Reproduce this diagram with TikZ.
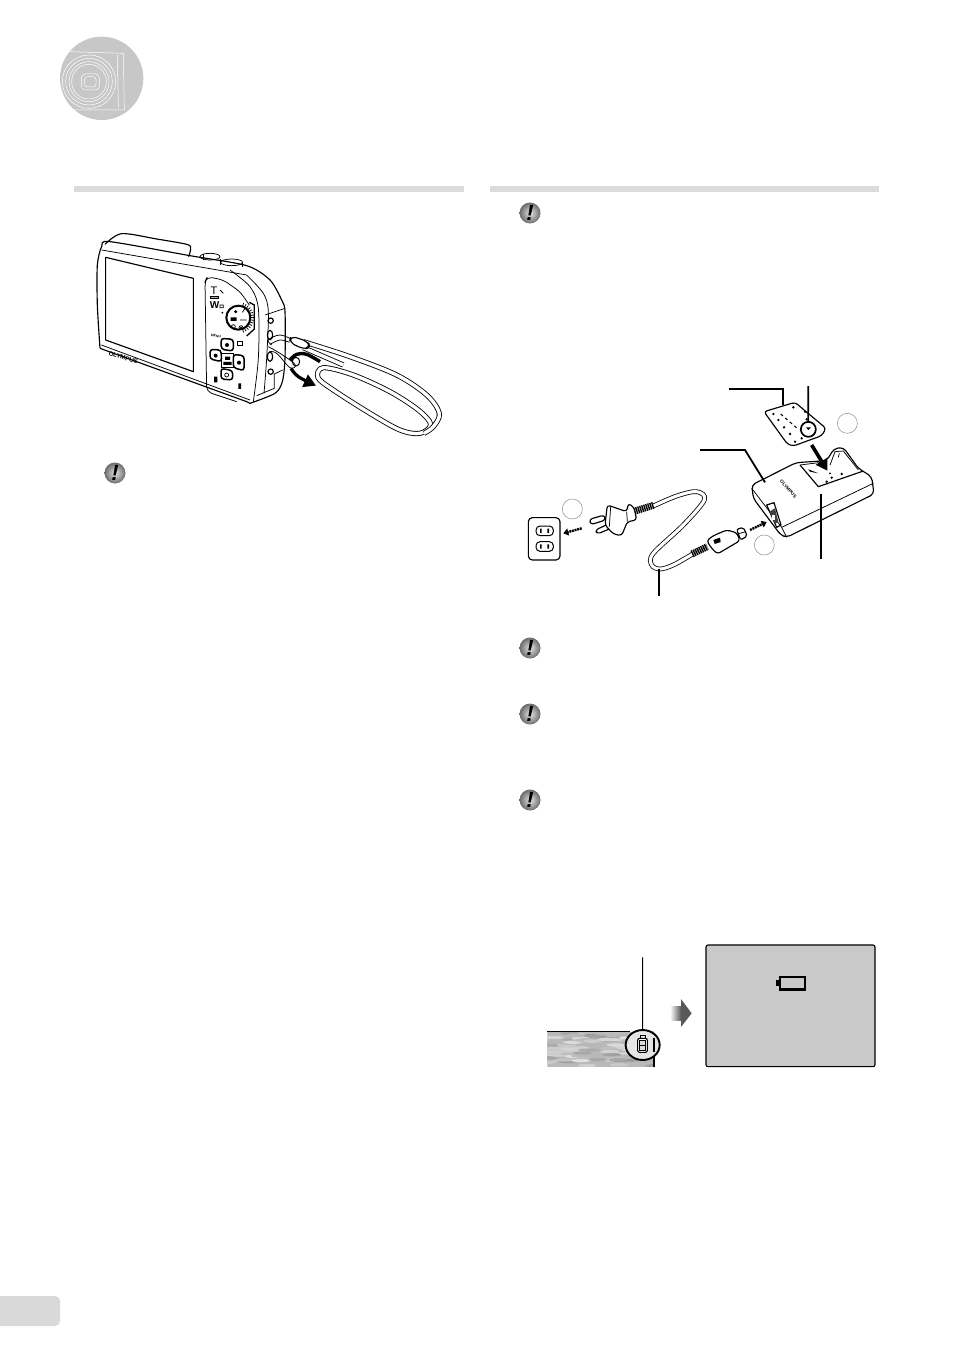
\documentclass[tikz,border=0pt]{standalone}
\usepackage{fontspec}
\setsansfont{Liberation Sans}
\usepackage{tikz}
\usetikzlibrary{arrows.meta,shapes.geometric}

\tikzset{
  outline/.style={line width=1.15pt,line join=round},
  fine/.style={line width=0.75pt},
  leader/.style={line width=1.8pt,line join=miter},
  emptymark/.style={draw=black!45,line width=0.5pt,fill=white},
  cordline/.style={line width=0.8pt,double=white,double distance=3.1pt},
  strapline/.style={line width=0.85pt,double=white,double distance=3.4pt},
  ribbed/.style={line width=7pt,dash pattern=on 1.4pt off 0.7pt},
  pushtip/.style={line width=2.4pt,dash pattern=on 2pt off 0.7pt,-{Triangle[length=5pt,width=7pt,sep=0pt]}},
  warnball/.style={circle,minimum size=21pt,inner sep=0pt,inner color=black!10,outer color=black!58,
    font=\sffamily\bfseries\itshape\fontsize{22}{22}\selectfont},
  barfill/.style={fill=black!14},
  % pictures below are laid out in 3x crop coordinates
  camview/.style={shift={(90,225)},scale=1/3},
  chargerview/.style={shift={(510,370)},scale=1/3},
  lowview/.style={shift={(530,930)},scale=1/3},
  headview/.style={shift={(40,20)},scale=1/3}
}

\begin{document}
\begin{tikzpicture}[x=1pt,y=-1pt]
 \useasboundingbox (0,0) rectangle (954,1356);

 % header disc
 \begin{scope}[headview]
  \fill[black!22] (185,175) circle (125);
  \begin{scope}[white,line width=0.5pt]
   \draw (88,95)--(250,100)--(253,270)--(100,270);
   \draw (232,105)--(235,262);
   \foreach \r in {52,60,70,80} \draw (147,185) circle (\r);
   \draw[rounded corners=4pt] (124,162)--(178,162)--(178,210)--(124,210)--cycle;
   \draw[rounded corners=3pt] (133,170)--(168,170)--(168,201)--(133,201)--cycle;
  \end{scope}
 \end{scope}

 % section bars and page tab
 \fill[barfill] (74,186) rectangle (464,192);
 \fill[barfill] (490,186) rectangle (879,192);
 \fill[black!15,rounded corners=5pt] (-10,1296) rectangle (60,1326);

 % caution marks
 \node[warnball] (warnstrap) at (115,473) {!};
 \node[warnball] (warnone) at (530,213) {!};
 \node[warnball] (warntwo) at (530,648) {!};
 \node[warnball] (warnthree) at (530,714) {!};
 \node[warnball] (warnfour) at (530,800) {!};

 % camera
 \begin{scope}[camview]
  \draw[outline] plot[smooth,tension=0.45] coordinates
  {(480,535) (555,505) (577,470) (585,400) (585,260) (575,225) (540,165) (470,122) (300,92) (60,50) (35,65) (22,120) (22,240) (30,370)};
  \draw[outline] (30,370)--(470,530)--(480,535);
  \draw[outline] plot[smooth,tension=0.5] coordinates {(45,58) (95,26) (200,42) (290,58) (302,70) (296,95)};
  \draw[fine] (35,75)--(470,150);
  \draw[fine] plot[smooth,tension=0.5] coordinates {(470,150) (520,205) (535,260) (530,400) (522,505)};
  \draw[fine] plot[smooth,tension=0.5] coordinates {(420,135) (480,185) (505,250) (505,400) (490,530)};
  \draw[fine] (34,360)--(480,525);
  % screen
  \draw[outline] (47,97)--(310,160)--(310,440)--(47,345)--cycle;
  % top buttons
  \draw[fine] (360,95) ellipse (30 and 10);
  \draw[fine] (425,112) ellipse (33 and 10);
  \draw[fine] (340,105)--(340,88) (392,120)--(392,102) (458,125)--(458,112);
  % control panel
  \draw[fine,rounded corners=5pt] (440,530)--(350,500)--(345,170)--(352,155)--(400,165)--(450,200)--(478,240);
  \node[font=\sffamily\fontsize{11}{11}\selectfont] (zoomt) at (372,198) {T};
  \node[font=\sffamily\bfseries\fontsize{10}{10}\selectfont] (zoomw) at (374,239) {W};
  \draw[fine,fill=black!30] (360,215) rectangle (385,221);
  \fill (397,263) circle (3);
  \draw[fine] (390,195)--(400,205) (390,240) rectangle (400,248);
  % dial
  \draw[line width=1.3pt] (478,232)--(493,240)--(493,312)--(470,333);
  \draw[line width=2pt,fill=white] (445,278) circle (36);
  \foreach \a in {-70,-60,...,70} \draw[fine] ({445+38*cos(\a)},{278+38*sin(\a)})--({445+47*cos(\a)},{278+47*sin(\a)});
  \fill (437,260) circle (5) (422,277) rectangle (440,288);
  \draw[fine] (430,305) circle (6) (453,308) circle (6) (457,262)--(465,250) (450,285)--(470,285);
  \fill (453,308) circle (3);
  % pad
  \draw[line width=1.5pt,rounded corners=3pt] (393,340)--(430,343)--(430,378)--(394,373)--cycle;
  \draw[line width=1.5pt,rounded corners=3pt] (360,373)--(393,375)--(395,410)--(360,402)--cycle;
  \draw[line width=1.5pt,rounded corners=3pt] (430,388)--(462,392)--(462,437)--(430,428)--cycle;
  \draw[line width=1.5pt,rounded corners=3pt] (393,430)--(428,437)--(428,465)--(393,462)--cycle;
  \draw[fine] (395,385) rectangle (430,428);
  \fill (411,360) circle (6) (377,392) circle (6) (447,413) circle (6);
  \draw[line width=0.7pt] (410,450) circle (6);
  \fill (405,395) rectangle (420,405) (400,411) rectangle (425,420);
  \node[font=\sffamily\bfseries\fontsize{3.4}{3}\selectfont,rotate=-8] (menutext) at (378,333) {MENU};
  \draw[fine] (443,348) rectangle (458,360);
  \fill (372,455) rectangle (382,472) (445,475) rectangle (453,492);
  \node[font=\sffamily\bfseries\fontsize{6.2}{6.2}\selectfont,rotate=-17] (brandcam) at (100,398) {OLYMPUS};
  % side of body
  \draw[fine] (525,270)--(585,250);
  \draw[fine] (553,447)--(578,435);
  \draw[fine] (553,447)--(553,490)--(500,512);
  \draw[outline] (542,287) circle (8) (542,440) circle (8);
  \draw[outline] (540,330) ellipse (8 and 14) (540,395) ellipse (8 and 14);
  % strap
  \draw[strapline] plot[smooth cycle,tension=0.55] coordinates
  {(700,428) (790,450) (900,500) (985,555) (1022,598) (990,625) (930,615) (840,565) (730,495) (684,458)};
  \draw[strapline] plot[smooth,tension=0.55] coordinates
  {(640,350) (780,395) (920,450) (1010,510) (1048,565) (1030,605) (1002,625)};
  \draw[strapline] (640,368)--(760,420);
  \draw[fine] plot[smooth,tension=0.6] coordinates {(610,345) (570,330) (535,345) (545,360)};
  \draw[fine] plot[smooth,tension=0.6] coordinates {(598,352) (570,345) (540,358)};
  \draw[fine] plot[smooth,tension=0.6] coordinates {(535,365) (570,385) (615,418) (600,428) (560,385) (538,380)};
  \draw[line width=1pt] (618,410) circle (11 and 13);
  \draw[outline,fill=white,rounded corners=5pt] (603,333)--(655,350)--(660,368)--(640,372)--(598,352)--cycle;
  % fastening arrows
  \draw[line width=3.4pt] plot[smooth,tension=0.6] coordinates {(690,410) (650,388) (620,388) (600,405)};
  \draw[line width=3.2pt,-{Triangle[length=12pt,width=13pt]}] plot[smooth,tension=0.6] coordinates {(603,430) (625,455) (678,482)};
 \end{scope}

 % charger group
 \begin{scope}[chargerview]
  \node[emptymark,circle,minimum size=20pt,inner sep=0pt] (markc) at (1012,160) {};
  \node[emptymark,circle,minimum size=20pt,inner sep=0pt] (marka) at (187,417) {};
  \node[emptymark,circle,minimum size=20pt,inner sep=0pt] (markb) at (763,525) {};
  % battery
  \draw[outline,rounded corners=3pt] (762,125)--(855,97)--(948,175)--(935,197)--(850,228)--(832,222)--cycle;
  \draw[line width=1pt,dashed] (812,132)--(865,178);
  \foreach \dx/\dy in {790/132,805/150,822/172,840/192,850/112,885/125,890/148,855/215,875/205} \fill (\dx,\dy) circle (4);
  \node[circle,draw,line width=1.7pt,minimum size=15pt,inner sep=0pt] (batmark) at (895,178) {};
  \fill (895,180) -- (903,172) -- (888,172) -- cycle;
  % charger body
  \draw[outline,fill=white,rounded corners=4pt] (725,345)--(858,278)--(950,272)--(972,236)--(1000,232)--(1045,295)--(1085,320)--(1092,372)--(830,502)--(812,495)--(730,385)--cycle;
  \draw[fine] (725,355)--(815,472)--(1090,340);
  \draw[fine] (815,472)--(830,502);
  \draw[outline] (870,285)--(925,350)--(1060,303);
  \draw[fine] (870,285)--(950,275);
  \draw[fine] (960,285)--(975,245)--(1000,243)--(1045,300);
  \draw[fine] (988,250)--(985,262);
  \fill (950,335) circle (4) (965,323) circle (4) (995,312) circle (4) (960,310) circle (3);
  \fill (895,298) -- (925,310) -- (900,305) --cycle;
  \node[font=\sffamily\bfseries\fontsize{4.6}{4.6}\selectfont,rotate=-47] (brandchg) at (835,357) {OLYMPUS};
  % port
  \draw[outline] (770,405)--(792,398)--(813,465)--(800,472)--cycle;
  \fill[black!75] (778,425)--(795,415)--(805,455)--(795,462)--cycle;
  \fill[white] (785,435) rectangle (795,450);
  % inserting arrow
  \draw[line width=3.6pt,-{Triangle[length=11pt,width=13pt]}] (905,225)--(952,302);
  % outlet
  \draw[outline,rounded corners=4pt] (55,443) rectangle (150,570);
  \foreach \yy in {468,515} {
   \draw[line width=1pt,rounded corners=4pt] (78,\yy) rectangle (130,\yy+29);
   \fill (90,\yy+8) rectangle (95,\yy+21) (112,\yy+8) rectangle (117,\yy+21);
  }
  % cord
  \draw[cordline] plot[smooth,tension=0.55] coordinates
  {(430,408) (500,378) (560,365) (583,390) (520,465) (430,550) (425,585) (450,597) (490,585) (548,552)};
  \draw[ribbed] (372,424)--(430,406);
  \draw[ribbed] (546,552)--(592,530);
  % plug
  \draw[outline,fill=white,rounded corners=3pt] (238,448)--(283,435)--(287,450)--(242,464)--cycle;
  \draw[outline,fill=white,rounded corners=3pt] (256,480)--(300,460)--(305,474)--(262,492)--cycle;
  \draw[outline,fill=white,rounded corners=3pt] (292,405)--(350,425)--(355,400)--(372,412)--(380,450)--(352,455)--(335,497)--(310,492)--(285,465)--cycle;
  \draw[fine] (302,410)--(298,470) (350,425)--(352,455);
  % connector
  \draw[outline,fill=white,rounded corners=3pt] (590,512)--(610,497)--(650,480)--(680,488)--(690,512)--(622,552)--(605,535)--cycle;
  \draw[outline,fill=white,rounded corners=2pt] (680,478)--(700,472)--(712,498)--(692,510)--cycle;
  \draw[fine] (682,492)--(708,485);
  \fill (610,510)--(630,503)--(632,516)--(614,522)--cycle;
  % push arrows
  \draw[pushtip] (215,475)--(160,490);
  \draw[pushtip] (720,480)--(770,456);
  % leaders
  \coordinate (batlabel) at (657,58);
  \coordinate (batbend) at (820,58);
  \coordinate (battip) at (820,106);
  \coordinate (marklabel) at (895,48);
  \coordinate (chglabel) at (570,240);
  \coordinate (chgbend) at (705,240);
  \coordinate (chgtip) at (765,337);
  \coordinate (lamptip) at (932,372);
  \coordinate (lamplabel) at (932,567);
  \coordinate (cordtip) at (447,597);
  \coordinate (cordlabel) at (447,677);
  \draw[leader] (batlabel)--(batbend)--(battip);
  \draw[leader] (marklabel)--(batmark);
  \draw[leader] (chglabel)--(chgbend)--(chgtip);
  \draw[leader] (lamptip)--(lamplabel);
  \draw[leader] (cordtip)--(cordlabel);
 \end{scope}

 % low battery group
 \begin{scope}[lowview]
  \begin{scope}
   \clip (52,305) rectangle (372,410);
   \fill[black!28] (52,305) rectangle (372,410);
   \pgfmathsetseed{11}
   \foreach \i in {1,...,90} {
    \pgfmathsetmacro\spotx{50+rnd*330}
    \pgfmathsetmacro\spoty{305+rnd*105}
    \pgfmathtruncatemacro\spotc{12+rnd*28}
    \fill[black!\spotc] (\spotx,\spoty) ellipse (28 and 5);
   }
  \end{scope}
  \draw[line width=1.4pt] (52,305)--(300,305);
  \draw[line width=1.1pt] (372,410)--(372,325);
  \node[draw,ellipse,line width=1.9pt,minimum width=34pt,minimum height=30pt,inner sep=0pt,fill=black!10] (lowring) at (338,345) {};
  \draw[line width=1.1pt] (372,365)--(372,325);
  \draw[line width=1.1pt,rounded corners=2pt,fill=white] (323,325) rectangle (352,367);
  \draw[line width=0.8pt,fill=black!15] (329,332) rectangle (346,360);
  \draw[line width=0.7pt] (330,316) rectangle (346,325);
  \draw[line width=0.8pt] (329,346)--(346,346);
  \coordinate (lowlabel) at (338,82);
  \draw[line width=1.1pt] (lowlabel)--(lowring);
  % changeover arrow
  \shade[left color=white,right color=black!65] (420,228) rectangle (453,270);
  \fill[black!65] (453,207)--(485,250)--(453,291)--cycle;
  % warning panel
  \draw[line width=1.1pt,fill=black!21,rounded corners=2pt] (528,45) rectangle (1035,410);
  \draw[line width=2.6pt,fill=black!21] (750,141) rectangle (825,178);
  \fill (737,150) rectangle (749,168);
 \end{scope}
\end{tikzpicture}
\end{document}
